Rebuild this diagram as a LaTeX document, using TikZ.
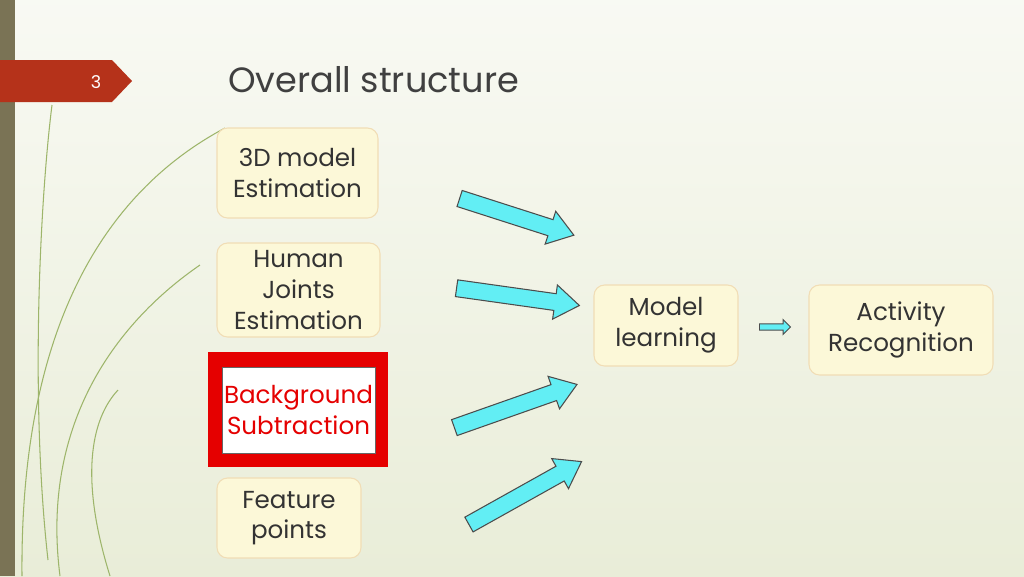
\documentclass[tikz,border=0pt]{standalone}
\usepackage{fontspec}
\setmainfont{Poppins}
\usetikzlibrary{shapes.arrows}
\definecolor{bgc}{HTML}{E9EDD8}
\definecolor{band}{HTML}{7A7355}
\definecolor{tab}{HTML}{B5321A}
\definecolor{boxf}{HTML}{FCF8D8}
\definecolor{boxd}{HTML}{F1DDB5}
\definecolor{arr}{HTML}{62EEF4}
\definecolor{deco}{HTML}{9DB56A}
\begin{document}
\begin{tikzpicture}[x=0.02cm,y=-0.02cm,
  box/.style={draw=boxd,fill=boxf,rounded corners=6pt,line width=0.6pt,align=center,font=\fontsize{14}{17.5}\selectfont,text=black!80,inner sep=0pt},
  bigarrow/.style={single arrow,draw=black!70,fill=arr,line width=0.6pt,inner xsep=0pt,inner ysep=4.5pt,single arrow head extend=5pt,single arrow tip angle=70,anchor=center}]
\useasboundingbox (0,0) rectangle (1024,576);
\shade[top color=white!70!bgc,bottom color=bgc] (0,0) rectangle (1024,576);
\fill[band] (0,0) rectangle (15,576);
\draw[deco,line width=0.6pt] (22,576) .. controls (20,350) and (90,200) .. (225,128);
\draw[deco,line width=0.6pt] (60,576) .. controls (40,420) and (120,320) .. (200,265);
\draw[deco,line width=0.6pt] (48,560) .. controls (30,400) and (40,200) .. (52,105);
\draw[deco,line width=0.6pt] (110,576) .. controls (80,480) and (90,420) .. (118,390);
\fill[tab] (0,60) -- (112,60) -- (132,81) -- (112,102) -- (0,102) -- cycle;
\node[text=white,font=\fontsize{10}{12}\selectfont] (num) at (96,82) {3};
\node[anchor=west,text=black!75,font=\fontsize{20}{24}\selectfont] (title) at (222,80) {Overall structure};
\node[box,minimum width=161*0.02cm,minimum height=90*0.02cm] (b1) at (297.5,173) {3D model\\Estimation};
\node[box,minimum width=163*0.02cm,minimum height=94*0.02cm] (b2) at (298.5,290) {Human\\Joints\\Estimation};
\fill[red!90!black] (208,352) rectangle (388,467);
\node[draw=black!60,fill=white,minimum width=153*0.02cm,minimum height=86*0.02cm,align=center,text=red!90!black,font=\fontsize{14}{17.5}\selectfont,inner sep=0pt] (b3) at (298.5,410) {Background\\Subtraction};
\node[box,minimum width=144*0.02cm,minimum height=80*0.02cm] (b4) at (289,518) {Feature\\points};
\node[box,minimum width=144*0.02cm,minimum height=81*0.02cm] (ml) at (666,325.5) {Model\\learning};
\node[box,minimum width=184*0.02cm,minimum height=90*0.02cm] (ar) at (901,330) {Activity\\Recognition};
\node[bigarrow,minimum height=120*0.02cm,rotate=-17.8] (a1) at (511,215) {};
\node[bigarrow,minimum height=124*0.02cm,rotate=-8] (a2) at (512,296) {};
\node[bigarrow,minimum height=130*0.02cm,rotate=19.4] (a3) at (510,408) {};
\node[bigarrow,minimum height=129*0.02cm,rotate=29.2] (a4) at (520,496) {};
\node[single arrow,draw=black!70,fill=arr,line width=0.5pt,inner xsep=0pt,inner ysep=1.5pt,single arrow head extend=2.5pt,minimum height=31*0.02cm] (a5) at (773.5,327) {};
\end{tikzpicture}
\end{document}
